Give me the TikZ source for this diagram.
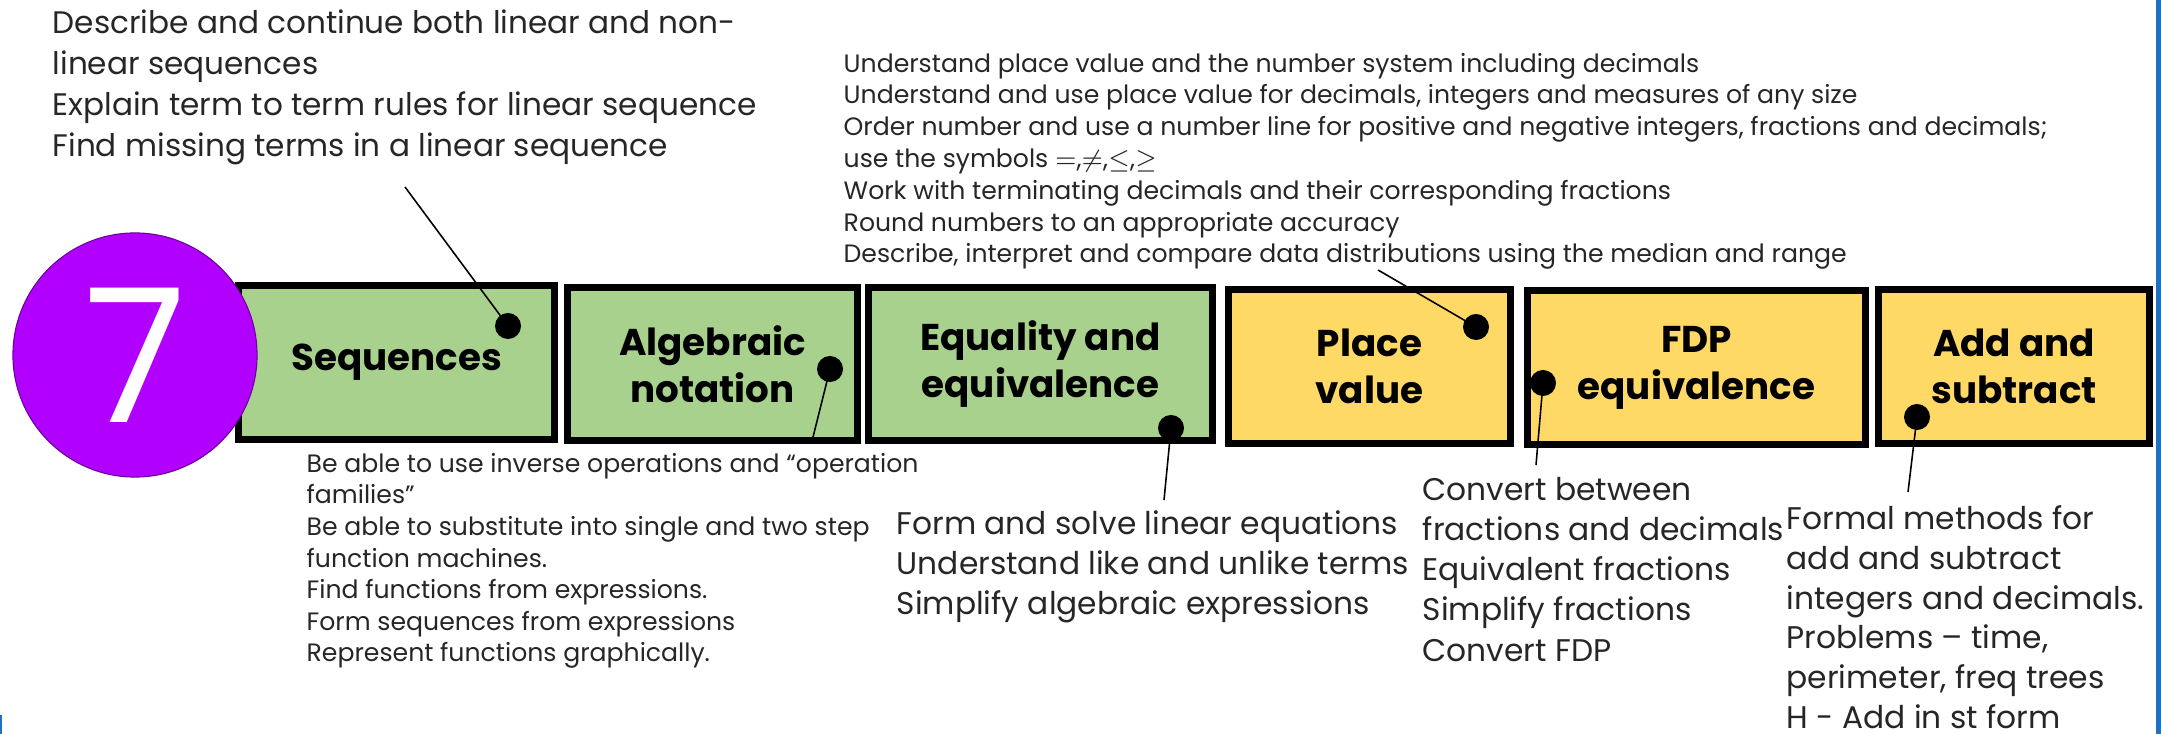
\documentclass[tikz,border=0pt]{standalone}
\usepackage{fontspec}
\setmainfont{Poppins}
\usetikzlibrary{positioning}

\definecolor{algebragreen}{HTML}{A9D18E}
\definecolor{numberyellow}{HTML}{FFD966}
\definecolor{yearpurple}{RGB}{178,0,255}
\definecolor{slideblue}{RGB}{32,112,192}

\newcommand{\fs}[2]{\fontsize{#1}{#2}\selectfont}

\tikzset{
  topic/.style={draw=black,line width=2pt,minimum height=1.53cm,inner sep=0pt,
    align=center,font=\fs{10.6}{13.4}\bfseries},
  pindot/.style={circle,fill=black,minimum size=0.26cm,inner sep=0pt},
  pinline/.style={line width=0.45pt},
  % notes hang from the baseline of their last line
  note/.style={anchor=base west,align=left,inner sep=0pt,text=black!85},
}

\begin{document}
\begin{tikzpicture}[x=0.01cm,y=-0.01cm]
\useasboundingbox (0,0) rectangle (2161,734);
\fill[slideblue] (2156,0) rectangle (2161,734);
\fill[slideblue] (0,715) rectangle (2,734);

% the six topics of the year
\node[topic,fill=algebragreen,minimum width=3.16cm] (seq) at (396.5,362.5) {Sequences};
\node[topic,fill=algebragreen,minimum width=2.90cm] (alg) at (712.5,364) {Algebraic\\notation};
\node[topic,fill=algebragreen,minimum width=3.44cm] (equ) at (1040.5,364) {Equality and\\equivalence};
\node[topic,fill=numberyellow,minimum width=2.82cm] (place) at (1369.5,366.5) {Place\\value};
\node[topic,fill=numberyellow,minimum width=3.38cm] (fdp) at (1696.5,367.5) {FDP\\equivalence};
\node[topic,fill=numberyellow,minimum width=2.71cm] (add) at (2014,366.5) {Add and\\subtract};

% year badge
\node[circle,fill=yearpurple,draw=yearpurple!60!black,line width=0.3pt,
  minimum size=2.44cm,inner sep=0pt,text=white,font=\fs{53}{53}] (year) at (135,355) {7};

% notes for each topic
\node[note,font=\fs{8.85}{11.66}] (seqtxt) at (52,157)
  {Describe and continue both linear and non-\\linear sequences\\
   Explain term to term rules for linear sequence\\Find missing terms in a linear sequence};
\node[note,font=\fs{7.15}{9.05}] (placetxt) at (843,263)
  {Understand place value and the number system including decimals\\
   Understand and use place value for decimals, integers and measures of any size\\
   Order number and use a number line for positive and negative integers, fractions and decimals;\\
   use the symbols $=$,$\neq$,$\leq$,$\geq$\\
   Work with terminating decimals and their corresponding fractions\\
   Round numbers to an appropriate accuracy\\
   Describe, interpret and compare data distributions using the median and range};
\node[note,font=\fs{7.15}{9.0}] (algtxt) at (306,662)
  {Be able to use inverse operations and “operation\\families”\\
   Be able to substitute into single and two step\\function machines.\\
   Find functions from expressions.\\Form sequences from expressions\\
   Represent functions graphically.};
\node[note,font=\fs{8.9}{11.24}] (equtxt) at (896,614)
  {Form and solve linear equations\\Understand like and unlike terms\\Simplify algebraic expressions};
\node[note,font=\fs{8.9}{11.38}] (fdptxt) at (1422,661)
  {Convert between\\fractions and decimals\\Equivalent fractions\\Simplify fractions\\Convert FDP};
\node[note,font=\fs{8.9}{11.27}] (addtxt) at (1786,728)
  {Formal methods for\\add and subtract\\integers and decimals.\\Problems -- time,\\
   perimeter, freq trees\\H - Add in st form};

% pins from the topics to their notes
\node[pindot] (seq-dot) at (508,326) {};
\node[pindot] (alg-dot) at (830,369) {};
\node[pindot] (equ-dot) at (1171,428) {};
\node[pindot] (place-dot) at (1476,327) {};
\node[pindot] (fdp-dot) at (1543,383) {};
\node[pindot] (add-dot) at (1917,417) {};
\coordinate (seq-end) at (405,187);
\coordinate (alg-end) at (812,441);
\coordinate (equ-end) at (1164,500);
\coordinate (place-end) at (1378,270);
\coordinate (fdp-end) at (1536,465);
\coordinate (add-end) at (1908,492);
\foreach \p in {seq,alg,equ,place,fdp,add}
  \draw[pinline] (\p-end) -- (\p-dot.center);
\end{tikzpicture}
\end{document}
